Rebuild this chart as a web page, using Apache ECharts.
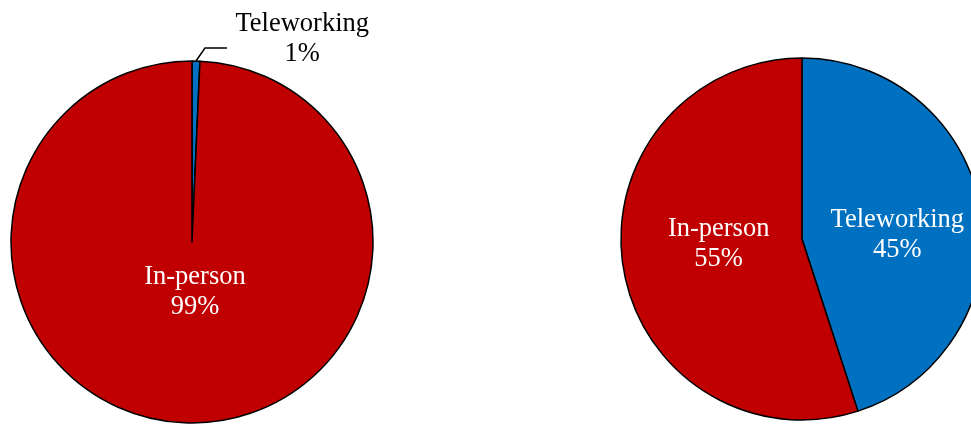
<!DOCTYPE html>
<html>
<head>
<meta charset="utf-8">
<script src="https://cdn.jsdelivr.net/npm/echarts@6/dist/echarts.min.js"></script>
<style>html,body{margin:0;padding:0;background:#fff;}#c{width:971px;height:424px;}</style>
</head>
<body>
<div id="c"></div>
<script>
const categories = ['Teleworking', 'In-person'];
const beforeValues = [0.7, 99.3];
const afterValues = [45, 55];
const beforeLabels = ['1%', '99%'];
const afterLabels = ['45%', '55%'];
const colors = ['#0070C0', '#C00000'];

const chart = echarts.init(document.getElementById('c'), null, {renderer: 'canvas'});
const font = 'Liberation Serif, Times New Roman, serif';
const FS = 26.5, LH = 30;

function mk(values, labels, center, opts, layout) {
  return {
    type: 'pie',
    center: center,
    radius: 181,
    startAngle: 90,
    clockwise: true,
    animation: false,
    silent: true,
    itemStyle: {borderColor: '#000', borderWidth: 1.5},
    labelLayout: layout,
    data: categories.map((c, i) => {
      const o = opts[i] || {};
      return {
        name: c,
        value: values[i],
        itemStyle: {color: colors[i]},
        label: Object.assign({
          show: true,
          position: 'inside',
          formatter: c + '\n' + labels[i],
          color: '#fff',
          fontFamily: font,
          fontSize: FS,
          lineHeight: LH,
          align: 'center'
        }, o.label || {}),
        labelLine: o.labelLine
      };
    })
  };
}

const option = {
  backgroundColor: '#fff',
  series: [
    mk(beforeValues, beforeLabels, [192, 242], {
      0: {
        label: {
          position: 'outside', color: '#000', distanceToLabelLine: 8
        },
        labelLine: {show: true, length: 12, length2: 22, lineStyle: {color: '#000', width: 1.5}}
      },
      1: {label: {offset: [5, -43]}}
    }, function (p) {
      if (p.dataIndex !== 0 || !p.labelLinePoints) return {};
      const p0 = p.labelLinePoints[0];
      const p1 = [p0[0] + 9, p0[1] - 13];
      const p2 = [p1[0] + 22, p1[1]];
      return {align: 'center', dx: 76, dy: -10, labelLinePoints: [p0, p1, p2]};
    }),
    mk(afterValues, afterLabels, [802, 239], {
      0: {label: {offset: [3, 11]}},
      1: {label: {offset: [9, -10]}}
    })
  ]
};
chart.setOption(option);
</script>
</body>
</html>
